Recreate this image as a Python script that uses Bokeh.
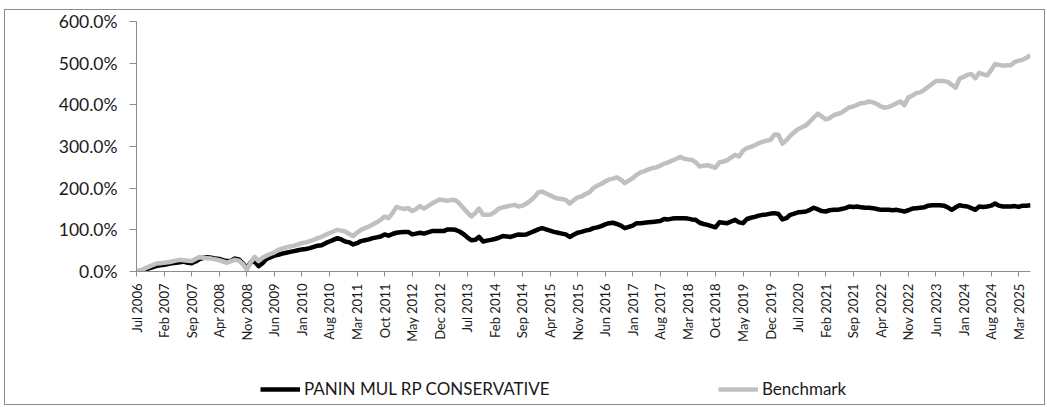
from math import pi
from bokeh.plotting import figure
from bokeh.layouts import column
from bokeh.models import (Range1d, FixedTicker, PrintfTickFormatter, Legend, LegendItem,
                          ColumnDataSource)
from bokeh.embed import file_html
from bokeh.resources import INLINE

# Monthly cumulative returns (%), Jul 2006 .. Jun 2025 (one row = Jul..Jun)
fund = [
    0, 2, 4, 7, 10, 13, 15, 16, 18, 20, 21, 22,
    24, 21, 20, 24, 30, 33, 34, 33, 31, 30, 27, 25,
    26, 31, 29, 20, 8, 22, 24, 13, 20, 30, 34, 38,
    40, 43, 45, 47, 49, 51, 53, 54, 56, 59, 62, 63,
    68, 72, 76, 80, 77, 72, 70, 65, 68, 73, 75, 77,
    80, 82, 84, 89, 86, 90, 93, 94, 95, 95, 89, 91,
    93, 91, 94, 97, 97, 97, 97, 101, 101, 100, 96, 90,
    82, 75, 76, 83, 72, 74, 76, 78, 81, 85, 84, 83,
    86, 89, 88, 89, 93, 97, 101, 104, 101, 98, 95, 93,
    91, 89, 83, 88, 93, 95, 98, 100, 104, 106, 109, 113,
    116, 117, 114, 110, 104, 107, 110, 116, 116, 117, 118, 119,
    120, 121, 126, 125, 127, 128, 128, 128, 127, 125, 124, 117,
    114, 112, 109, 106, 118, 117, 116, 120, 124, 118, 116, 126,
    129, 131, 134, 136, 137, 139, 140, 138, 125, 128, 136, 139,
    142, 143, 144, 148, 153, 149, 145, 144, 147, 148, 148, 150,
    152, 156, 155, 156, 154, 153, 153, 152, 150, 148, 148, 148,
    147, 148, 146, 144, 147, 151, 152, 153, 154, 158, 159, 159,
    159, 158, 154, 148, 154, 159, 157, 156, 152, 148, 156, 155,
    156, 158, 163, 158, 156, 156, 156, 157, 155, 158, 158, 159,
]
benchmark = [
    0, 3, 7, 11, 15, 19, 20, 21, 22, 24, 26, 28,
    27, 26, 25, 30, 35, 33, 32, 31, 29, 27, 24, 21,
    25, 28, 26, 18, 4, 22, 35, 25, 33, 38, 42, 46,
    52, 55, 58, 60, 62, 65, 68, 70, 73, 76, 80, 83,
    88, 92, 96, 100, 98, 96, 90, 85, 93, 100, 104, 108,
    113, 118, 124, 132, 128, 140, 155, 152, 150, 152, 145, 150,
    157, 151, 157, 163, 168, 173, 171, 170, 172, 171, 163, 152,
    142, 132, 140, 151, 136, 136, 137, 143, 151, 154, 156, 158,
    160, 156, 158, 163, 170, 178, 190, 192, 187, 183, 178, 175,
    174, 172, 163, 171, 178, 180, 186, 190, 200, 206, 210, 216,
    221, 223, 226, 220, 212, 218, 224, 232, 238, 241, 245, 248,
    250, 254, 259, 262, 266, 270, 275, 271, 269, 268, 262, 252,
    254, 255, 252, 249, 262, 264, 267, 274, 280, 276, 290, 296,
    299, 303, 308, 311, 314, 316, 329, 328, 307, 315, 326, 334,
    342, 346, 351, 360, 370, 379, 372, 365, 368, 375, 378, 381,
    388, 394, 396, 400, 404, 405, 408, 406, 402, 396, 393, 395,
    399, 404, 408, 399, 418, 422, 428, 430, 436, 443, 450, 457,
    457, 457, 455, 448, 441, 463, 467, 472, 474, 464, 477, 473,
    471, 483, 498, 496, 494, 495, 495, 503, 506, 508, 513, 519,
]
tick_labels = [
    "Jul 2006", "Feb 2007", "Sep 2007", "Apr 2008", "Nov 2008", "Jun 2009",
    "Jan 2010", "Aug 2010", "Mar 2011", "Oct 2011", "May 2012", "Dec 2012",
    "Jul 2013", "Feb 2014", "Sep 2014", "Apr 2015", "Nov 2015", "Jun 2016",
    "Jan 2017", "Aug 2017", "Mar 2018", "Oct 2018", "May 2019", "Dec 2019",
    "Jul 2020", "Feb 2021", "Sep 2021", "Apr 2022", "Nov 2022", "Jun 2023",
    "Jan 2024", "Aug 2024", "Mar 2025",
]
series_names = ["PANIN MUL RP CONSERVATIVE", "Benchmark"]
series_colors = ["#000000", "#c0c0c0"]

months = list(range(len(fund)))
tick_pos = [i * 7 for i in range(len(tick_labels))]

src = ColumnDataSource(dict(m=months, fund=fund, bench=benchmark))

FONT = "Lato"
TXT = "#1a1a1a"
AX = "#8c8c8c"
LW = 4.5

p = figure(width=1039, height=334, output_backend="svg", toolbar_location=None,
           x_range=Range1d(0, len(fund) - 1), y_range=Range1d(0, 600),
           min_border_left=131, min_border_right=14, min_border_top=11,
           min_border_bottom=66, outline_line_color=None,
           background_fill_color="white", border_fill_color="white")

p.line("m", "fund", source=src, line_color=series_colors[0], line_width=LW, line_join="round")
p.line("m", "bench", source=src, line_color=series_colors[1], line_width=LW, line_join="round")

p.xgrid.visible = False
p.ygrid.visible = False

xa = p.xaxis[0]
xa.ticker = FixedTicker(ticks=tick_pos)
xa.major_label_overrides = {t: l for t, l in zip(tick_pos, tick_labels)}
xa.major_label_orientation = pi / 2
xa.major_tick_in = 0
xa.major_tick_out = 5
xa.minor_tick_line_color = None
xa.axis_line_color = AX
xa.major_tick_line_color = AX
xa.major_label_text_font = FONT
xa.major_label_text_font_size = "13px"
xa.major_label_text_color = TXT
xa.major_label_standoff = 7

ya = p.yaxis[0]
ya.ticker = FixedTicker(ticks=[0, 100, 200, 300, 400, 500, 600])
ya.formatter = PrintfTickFormatter(format="%.1f%%")
ya.major_tick_in = 0
ya.major_tick_out = 7
ya.minor_tick_line_color = None
ya.axis_line_color = AX
ya.major_tick_line_color = AX
ya.major_label_text_font = FONT
ya.major_label_text_font_size = "17.5px"
ya.major_label_text_color = TXT
ya.major_label_standoff = 12

# legend strip below the chart (its key lines use the same series, kept out of view)
pl = figure(width=1039, height=60, output_backend="svg", toolbar_location=None,
            x_range=Range1d(0, 1), y_range=Range1d(-2, -1),
            x_axis_location=None, y_axis_location=None, min_border=0,
            outline_line_color=None, background_fill_color="white",
            border_fill_color="white")
pl.grid.visible = False
k1 = pl.line("m", "fund", source=src, line_color=series_colors[0], line_width=LW)
k2 = pl.line("m", "bench", source=src, line_color=series_colors[1], line_width=LW)

legend = Legend(items=[LegendItem(label=series_names[0], renderers=[k1]),
                       LegendItem(label=series_names[1], renderers=[k2])],
                orientation="horizontal", location=(124, 5),
                glyph_width=40, glyph_height=20, label_height=20, label_width=267,
                label_standoff=4, spacing=147, padding=0, margin=0,
                border_line_color=None, background_fill_alpha=0,
                label_text_font=FONT, label_text_font_size="17px",
                label_text_color=TXT)
pl.add_layout(legend, "center")

layout = column(p, pl, spacing=0,
                styles={"border": "1px solid #8c8c8c", "margin-left": "4px",
                        "margin-top": "9px"})

open("out.html", "w").write(file_html(layout, INLINE))
